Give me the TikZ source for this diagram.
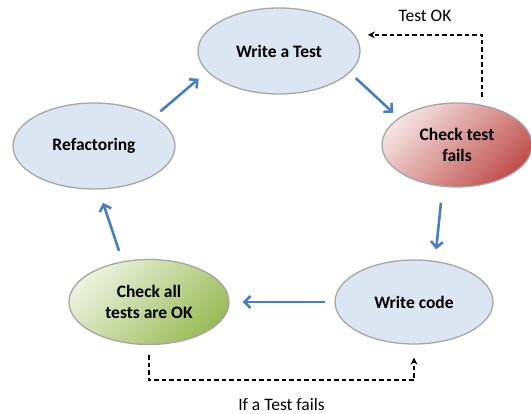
\documentclass[tikz,border=0pt]{standalone}
\usepackage{fontspec}
\setmainfont{Carlito}
\usetikzlibrary{shapes.geometric}
\usetikzlibrary{arrows.meta}
\definecolor{cycleblue}{HTML}{DCE6F2}
\definecolor{flowblue}{HTML}{4A7EBB}
\definecolor{rimgray}{HTML}{A6A6A6}
\definecolor{failred}{HTML}{C0504D}
\definecolor{failpink}{HTML}{F4E2E2}
\definecolor{okgreen}{HTML}{9BBB59}
\definecolor{okmid}{HTML}{B5CC88}
\definecolor{okpale}{HTML}{EBF1DE}
\tikzset{
    mynode/.style={font=\fontsize{17.5}{21.5}\selectfont},
    stage/.style={ellipse,draw=rimgray,line width=1.3pt,inner sep=0pt,align=center,font=\fontsize{17.5}{21.5}\selectfont\bfseries},
    flow/.style={-{Straight Barb[length=6pt,width=12pt]},draw=flowblue,line width=2.6pt},
    loopback/.style={-{Stealth[length=7pt,width=7pt]},line width=1.3pt,dash pattern=on 4.5pt off 3pt}
}
\begin{document}
\begin{tikzpicture}[x=1pt,y=-1pt]
        \useasboundingbox (0,0) rectangle (531,414);
        % ellipses
        \node[stage,fill=cycleblue,minimum width=162,minimum height=86] (wt) at (279,51) {Write a Test};
        \node[stage,top color=failpink,bottom color=failred,shading angle=45,minimum width=150,minimum height=84] (ctf) at (457,145) {Check test\\fails};
        \node[stage,fill=cycleblue,minimum width=158,minimum height=84] (wc) at (414,302) {Write code};
        \node[stage,top color=okpale,middle color=okmid,bottom color=okgreen,shading angle=45,minimum width=160,minimum height=85] (ca) at (149,302) {Check all\\tests are OK};
        \node[stage,fill=cycleblue,minimum width=162,minimum height=86] (ref) at (94,146) {Refactoring};

        % cycle arrows
        \draw[flow,shorten <=8pt,shorten >=11pt] (ref.26) -- (wt.196);
        \draw[flow,shorten <=8pt,shorten >=7.5pt] (wt.343) -- (ctf.155);
        \draw[flow,shorten <=16pt,shorten >=11.5pt] (ctf.251) -- (wc.63);
        \draw[flow,shorten <=9pt,shorten >=13pt] (wc.180) -- (ca.0);
        \draw[flow,shorten <=11pt,shorten >=14pt] (ca.123) -- (ref.276);

        % dashed returns
        \draw[loopback] ([yshift=8pt]ctf.58) |- node[mynode,above=13pt,inner sep=0pt,pos=0.75] {Test OK} ([xshift=13pt]wt.12);
        \draw[loopback] ([yshift=-10pt]ca.south) -- ++(0,25) -| node[mynode,below=17.5pt,inner sep=0pt,pos=0.25] {If a Test fails} ([yshift=-13pt]wc.south);
\end{tikzpicture}
\end{document}
